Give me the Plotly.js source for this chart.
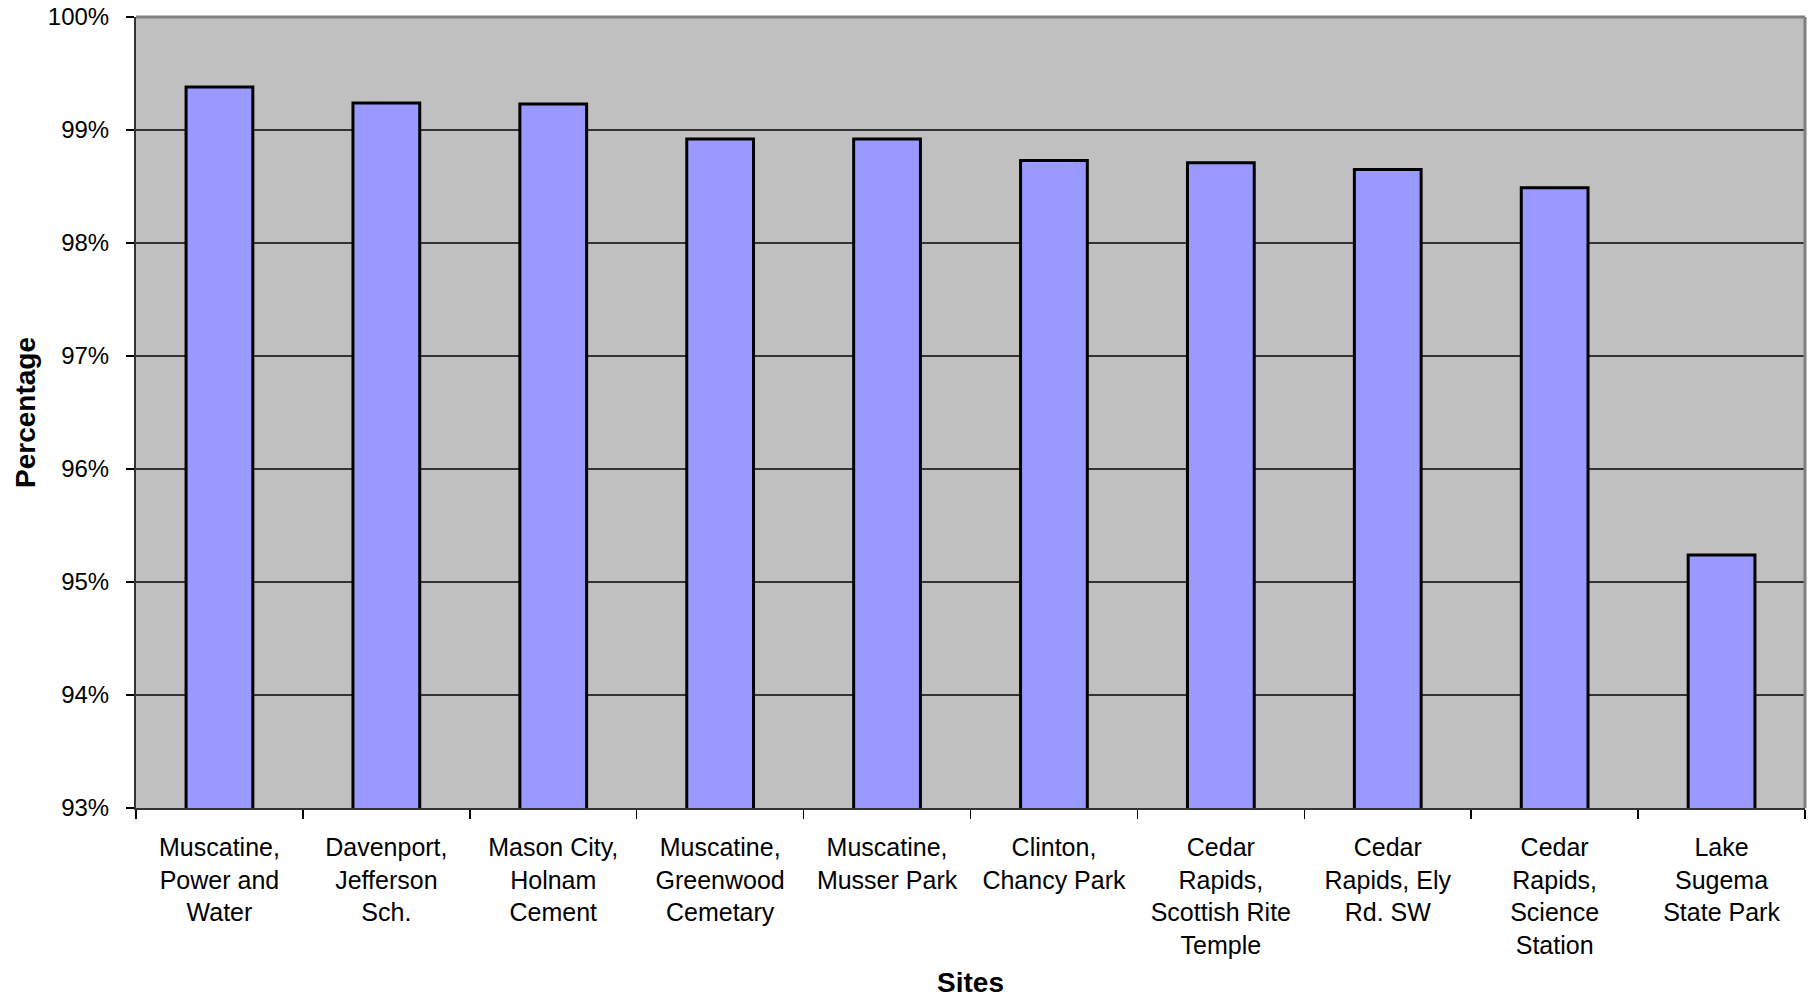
<!DOCTYPE html>
<html>
<head>
<meta charset="utf-8">
<script src="https://cdn.plot.ly/plotly-3.0.1.min.js"></script>
<style>html,body{margin:0;padding:0;background:#fff;}#chart{width:1814px;height:1000px;}</style>
</head>
<body>
<div id="chart"></div>
<script>
const sites = [
  "Muscatine,<br>Power and<br>Water",
  "Davenport,<br>Jefferson<br>Sch.",
  "Mason City,<br>Holnam<br>Cement",
  "Muscatine,<br>Greenwood<br>Cemetary",
  "Muscatine,<br>Musser Park",
  "Clinton,<br>Chancy Park",
  "Cedar<br>Rapids,<br>Scottish Rite<br>Temple",
  "Cedar<br>Rapids, Ely<br>Rd. SW",
  "Cedar<br>Rapids,<br>Science<br>Station",
  "Lake<br>Sugema<br>State Park"
];
const percentages = [99.38, 99.24, 99.23, 98.92, 98.92, 98.73, 98.71, 98.65, 98.49, 95.24];
const yTicks = [93, 94, 95, 96, 97, 98, 99, 100];
const yTickLabels = ["93%", "94%", "95%", "96%", "97%", "98%", "99%", "100%"];

const trace = {
  type: 'bar',
  x: sites,
  y: percentages,
  width: 0.4,
  marker: {color: '#9999FF', line: {color: '#000000', width: 3}},
  hoverinfo: 'skip'
};

const font = "Liberation Sans, Arial, sans-serif";
const layout = {
  width: 1814, height: 1000,
  margin: {l: 136, r: 9, t: 17, b: 192},
  paper_bgcolor: '#ffffff',
  plot_bgcolor: '#C0C0C0',
  showlegend: false,
  font: {family: font, color: '#000000'},
  xaxis: {
    type: 'category',
    tickson: 'boundaries',
    ticks: 'outside', ticklen: 9, tickwidth: 1.5, tickcolor: '#000000',
    showgrid: false,
    showline: true, linecolor: '#333333', linewidth: 2,
    tickfont: {family: font, size: 25, color: '#000000'},
    tickangle: 0,
    ticklabelstandoff: 16,
    title: {text: '<b>Sites</b>', font: {family: font, size: 28, color: '#000000'}, standoff: 15},
    automargin: false
  },
  yaxis: {
    range: [93, 100],
    tickvals: yTicks,
    ticktext: yTickLabels,
    ticks: 'outside', ticklen: 8, tickwidth: 1.5, tickcolor: '#000000',
    showgrid: true, gridcolor: '#333333', gridwidth: 1.5,
    zeroline: false,
    showline: true, linecolor: '#333333', linewidth: 2,
    tickfont: {family: font, size: 24, color: '#000000'},
    ticklabelstandoff: 12,
    title: {text: '<b>Percentage</b>', font: {family: font, size: 28, color: '#000000'}, standoff: 4},
    automargin: false
  },
  shapes: [
    {type: 'line', xref: 'paper', yref: 'paper', x0: 0, x1: 1, y0: 1, y1: 1, line: {color: '#808080', width: 3}},
    {type: 'line', xref: 'paper', yref: 'paper', x0: 1, x1: 1, y0: 0, y1: 1, line: {color: '#808080', width: 3}}
  ]
};

Plotly.newPlot('chart', [trace], layout, {staticPlot: true, displayModeBar: false});
</script>
</body>
</html>
